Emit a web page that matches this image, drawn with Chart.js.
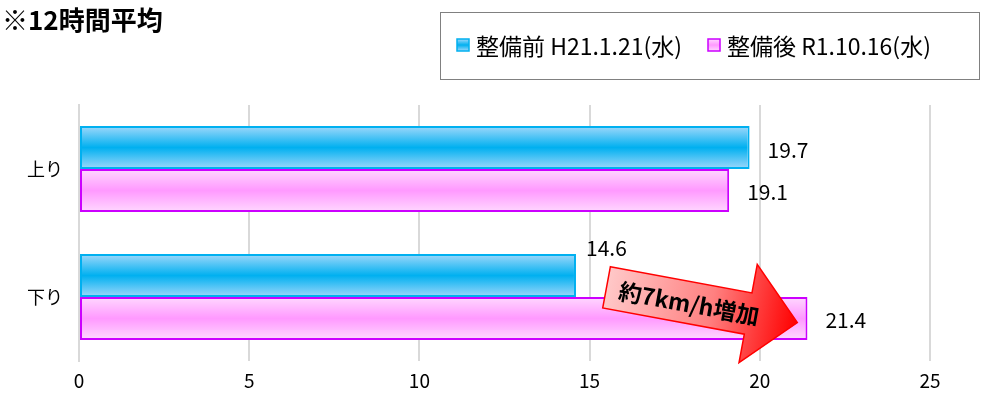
<!DOCTYPE html>
<html>
<head>
<meta charset="utf-8">
<script src="https://cdn.jsdelivr.net/npm/chart.js@4/dist/chart.umd.min.js"></script>
<style>
  html, body { margin: 0; padding: 0; background: #fff; }
</style>
</head>
<body>
<canvas id="speedChart" width="985" height="393"></canvas>
<script>
// データ
var categories = ['上り', '下り'];
var beforeValues = [19.7, 14.6];
var afterValues = [19.1, 21.4];
var seriesNames = ['整備前 H21.1.21(水)', '整備後 R1.10.16(水)'];
var xTicks = [0, 5, 10, 15, 20, 25];
var titleText = '※12時間平均';
var arrowText = '約7km/h増加';

var FONT = '"Noto Sans CJK JP", "Noto Sans", sans-serif';

// 棒のグラデーション（上下が薄く、中央が濃い）
function barGradient(ctx, colors, first) {
  var chart = ctx.chart;
  var y = chart.scales && chart.scales.y;
  if (!y || y.top === undefined || ctx.dataIndex === undefined) return colors[1];
  var c = y.getPixelForValue(ctx.dataIndex);
  var h = (y.height / categories.length) * 0.67 / 2;
  var top = first ? c - h : c;
  var g = chart.ctx.createLinearGradient(0, top, 0, top + h);
  g.addColorStop(0, colors[0]);
  g.addColorStop(0.5, colors[1]);
  g.addColorStop(1, colors[0]);
  return g;
}

var blueCols = ['#a0d8fb', '#00b0f0'];
var pinkCols = ['#ffd8ff', '#ff99ff'];

// タイトル・凡例・数値ラベル・矢印
var decor = {
  id: 'decor',
  afterDatasetsDraw: function(chart) {
    var ctx = chart.ctx;
    var xs = chart.scales.x;
    ctx.save();

    // 数値ラベル
    ctx.fillStyle = '#000';
    ctx.font = '21px ' + FONT;
    ctx.textBaseline = 'middle';
    ctx.textAlign = 'left';
    chart.data.datasets.forEach(function(ds, di) {
      chart.getDatasetMeta(di).data.forEach(function(el, i) {
        var dx = 18, dy = 2;
        // 下り整備前は矢印と重なるので上に出す
        if (di === 0 && i === 1) { dx = 10; dy = -28; }
        ctx.fillText(ds.data[i].toFixed(1), el.x + dx, el.y + dy);
      });
    });

    // 矢印
    var ys = chart.scales.y;
    var x0 = xs.getPixelForValue(15.5), x1 = xs.getPixelForValue(21.1);
    var yc = ys.getPixelForValue(1);
    var len = Math.hypot(x1 - x0, 36);
    ctx.translate((x0 + x1) / 2, yc + 8);
    ctx.rotate(10.5 * Math.PI / 180);
    var L = len / 2, sh = 21, hh = 50, hl = 50;
    ctx.beginPath();
    ctx.moveTo(-L, -sh);
    ctx.lineTo(L - hl, -sh);
    ctx.lineTo(L - hl, -hh);
    ctx.lineTo(L, 0);
    ctx.lineTo(L - hl, hh);
    ctx.lineTo(L - hl, sh);
    ctx.lineTo(-L, sh);
    ctx.closePath();
    var g = ctx.createLinearGradient(-L, 0, L, 0);
    g.addColorStop(0, '#ffc8c8');
    g.addColorStop(0.55, '#ff8080');
    g.addColorStop(1, '#ff0000');
    ctx.fillStyle = g;
    ctx.fill();
    ctx.strokeStyle = '#ff0000';
    ctx.lineWidth = 1.5;
    ctx.stroke();
    ctx.fillStyle = '#000';
    ctx.font = 'bold 23px ' + FONT;
    ctx.textAlign = 'center';
    ctx.fillText(arrowText, -L + 84, 1);
    ctx.restore();
  },
  afterDraw: function(chart) {
    var ctx = chart.ctx;
    ctx.save();
    // タイトル
    ctx.fillStyle = '#000';
    ctx.font = 'bold 26px ' + FONT;
    ctx.textBaseline = 'middle';
    ctx.textAlign = 'left';
    ctx.fillText(titleText, 2, 20);

    // 凡例
    ctx.strokeStyle = '#808080';
    ctx.lineWidth = 1;
    ctx.strokeRect(440.5, 12.5, 539, 67);
    ctx.font = '23px ' + FONT;
    var items = [
      { x: 457, cols: blueCols, border: '#00b0f0' },
      { x: 708, cols: pinkCols, border: '#cc00ff' }
    ];
    items.forEach(function(it, i) {
      var g = ctx.createLinearGradient(0, 39, 0, 51);
      g.addColorStop(0, it.cols[0]);
      g.addColorStop(0.5, it.cols[1]);
      g.addColorStop(1, it.cols[0]);
      ctx.fillStyle = g;
      ctx.fillRect(it.x, 39, 12, 12);
      ctx.strokeStyle = it.border;
      ctx.lineWidth = 1.5;
      ctx.strokeRect(it.x, 39, 12, 12);
      ctx.fillStyle = '#000';
      ctx.fillText(seriesNames[i], it.x + 19, 46);
    });
    ctx.restore();
  }
};

var ctx = document.getElementById('speedChart').getContext('2d');
var chart = new Chart(ctx, {
  type: 'bar',
  data: {
    labels: categories,
    datasets: [{
      label: seriesNames[0],
      data: beforeValues,
      backgroundColor: function(c) { return barGradient(c, blueCols, true); },
      borderColor: '#00b0f0',
      borderWidth: 2,
      borderSkipped: false
    }, {
      label: seriesNames[1],
      data: afterValues,
      backgroundColor: function(c) { return barGradient(c, pinkCols, false); },
      borderColor: '#cc00ff',
      borderWidth: 2,
      borderSkipped: false
    }]
  },
  options: {
    indexAxis: 'y',
    responsive: false,
    animation: false,
    layout: { padding: { top: 105, right: 55, left: 0, bottom: 0 } },
    categoryPercentage: 0.67,
    barPercentage: 1,
    plugins: {
      legend: { display: false },
      tooltip: { enabled: false }
    },
    scales: {
      x: {
        min: 0,
        max: 25,
        afterBuildTicks: function(s) { s.ticks = xTicks.map(function(v) { return { value: v }; }); },
        afterFit: function(s) { s.height = 32; },
        grid: { color: '#d9d9d9', lineWidth: 2, drawTicks: false, tickLength: 0 },
        border: { display: false },
        ticks: { color: '#000', font: { size: 19, family: FONT }, padding: 8 }
      },
      y: {
        afterFit: function(s) { s.width = 79; },
        grid: { display: false, drawTicks: false },
        border: { display: true, color: '#d9d9d9', width: 2 },
        ticks: { color: '#000', font: { size: 18, family: FONT }, padding: 16 }
      }
    }
  },
  plugins: [decor]
});
</script>
</body>
</html>
